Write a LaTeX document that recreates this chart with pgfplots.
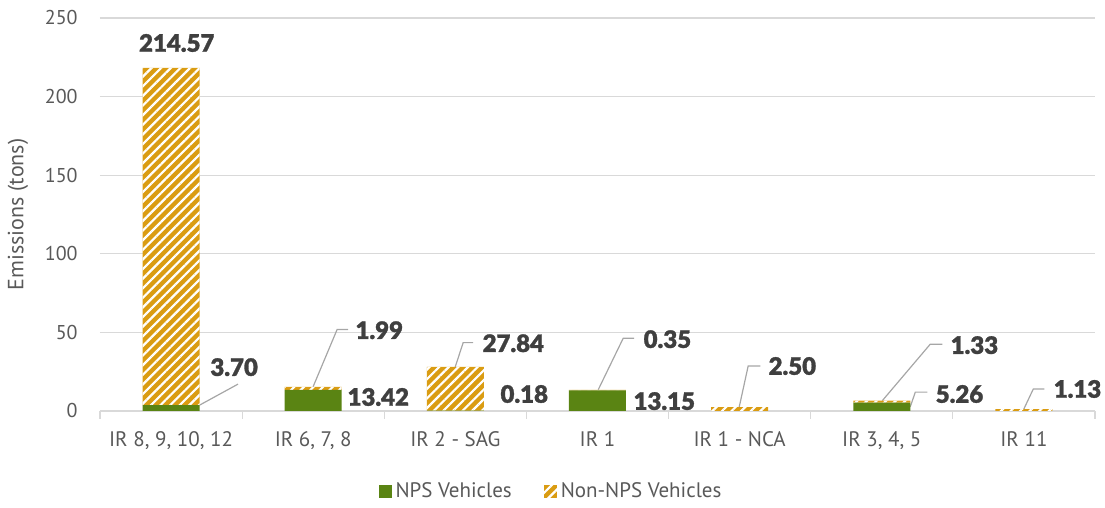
\documentclass[border=0pt]{standalone}
\usepackage{fontspec}
\setmainfont{PT Sans}
\newfontfamily\lblfont{Lato}[UprightFont=* Black, FakeBold=1.2]
\usepackage{pgfplots}
\pgfplotsset{compat=1.18}
\usetikzlibrary{patterns.meta}
\definecolor{npsgreen}{HTML}{5A8413}
\definecolor{nonnps}{HTML}{DA9C12}
\definecolor{tickgray}{HTML}{595959}
\definecolor{gridgray}{HTML}{D9D9D9}
\definecolor{lblgray}{HTML}{3F3F3F}
\definecolor{leadgray}{HTML}{A6A6A6}
\tikzset{dl/.style={font=\lblfont\fontsize{12}{14}\selectfont, text=lblgray, inner sep=0pt, anchor=west},
  lead/.style={leadgray, line width=0.6pt}}
\begin{document}
\begin{tikzpicture}
\path[use as bounding box] (-50pt,-48.5pt) rectangle (502.5pt,205.5pt);
\begin{axis}[
  at={(0pt,0pt)}, anchor=south west,
  scale only axis, width=497.5pt, height=196.5pt,
  clip=false,
  ybar stacked, bar width=28.5pt,
  xmin=-0.5, xmax=6.5, ymin=0, ymax=250,
  xtick={0,...,6},
  xticklabels={{IR 8, 9, 10, 12},{IR 6, 7, 8},{IR 2 - SAG},{IR 1},{IR 1 - NCA},{IR 3, 4, 5},{IR 11}},
  minor xtick={-0.5,0.5,...,6.5},
  ytick={0,50,...,250},
  ymajorgrids, grid style={gridgray, line width=0.6pt},
  axis line style={draw=none},
  xtick pos=bottom,
  major tick length=0pt, minor tick length=4pt, tick align=outside,
  major x tick style={draw=none},
  minor x tick style={draw=gridgray, line width=0.6pt},
  ytick style={draw=none},
  /pgf/number format/assume math mode=true,
  xticklabel style={font=\fontsize{10.5}{12}\selectfont, text=tickgray, anchor=base, yshift=-18pt},
  yticklabel style={font=\fontsize{10}{12}\selectfont, text=tickgray, anchor=east, inner sep=0pt, xshift=-11pt},
  ylabel={Emissions (tons)},
  ylabel style={at={(axis description cs:-0.0824,0.5)}, anchor=center, font=\fontsize{11}{13}\selectfont, text=tickgray},
  legend style={at={(axis description cs:0.4543,-0.206)}, anchor=center, draw=none, fill=none,
    legend columns=-1, font=\fontsize{10.5}{12}\selectfont, text=tickgray,
    /tikz/every even column/.append style={column sep=14pt}},
  legend image code/.code={\draw[#1, draw=none] (0pt,-3.25pt) rectangle (6.5pt,3.25pt);},
]
\addplot[fill=npsgreen, draw=none] coordinates {(0,3.70) (1,13.42) (2,0.18) (3,13.15) (4,0) (5,5.26) (6,0)};
\addplot[fill=nonnps, draw=none, postaction={pattern={Lines[angle=45,distance=3.4pt,line width=1.1pt]}, pattern color=white}] coordinates {(0,214.57) (1,1.99) (2,27.84) (3,0.35) (4,2.50) (5,1.33) (6,1.13)};
\legend{NPS Vehicles, Non-NPS Vehicles}

\node[dl, anchor=center] at (axis cs:0.04,234.1) {214.57};
\node[dl] at (axis cs:0.274,27.9) {3.70};
\draw[lead] (axis cs:0.2,3.7) -- (axis cs:0.471,17.1);
\node[dl] at (axis cs:1.239,8.9) {13.42};
\node[dl] at (axis cs:1.295,51.4) {1.99};
\draw[lead] (axis cs:0.999,15.4) -- (axis cs:1.168,51.8) -- (axis cs:1.246,51.8);
\node[dl] at (axis cs:2.189,43.1) {27.84};
\draw[lead] (axis cs:1.999,28.0) -- (axis cs:2.055,43.5) -- (axis cs:2.125,43.5);
\node[dl] at (axis cs:2.315,10.8) {0.18};
\node[dl] at (axis cs:3.322,45.7) {0.35};
\draw[lead] (axis cs:3.005,13.5) -- (axis cs:3.181,46.3) -- (axis cs:3.258,46.3);
\node[dl] at (axis cs:3.251,6.3) {13.15};
\node[dl] at (axis cs:4.201,28.6) {2.50};
\draw[lead] (axis cs:3.997,2.5) -- (axis cs:4.060,28.6) -- (axis cs:4.145,28.6);
\node[dl] at (axis cs:5.482,41.9) {1.33};
\draw[lead] (axis cs:5.004,6.59) -- (axis cs:5.341,42.5) -- (axis cs:5.426,42.5);
\node[dl] at (axis cs:5.377,10.8) {5.26};
\draw[lead] (axis cs:5.2,2.6) -- (axis cs:5.236,12.0) -- (axis cs:5.32,12.0);
\node[dl] at (axis cs:6.207,14.0) {1.13};
\draw[lead] (axis cs:5.996,0.6) -- (axis cs:6.066,14.0) -- (axis cs:6.143,14.0);
\end{axis}
\end{tikzpicture}
\end{document}
